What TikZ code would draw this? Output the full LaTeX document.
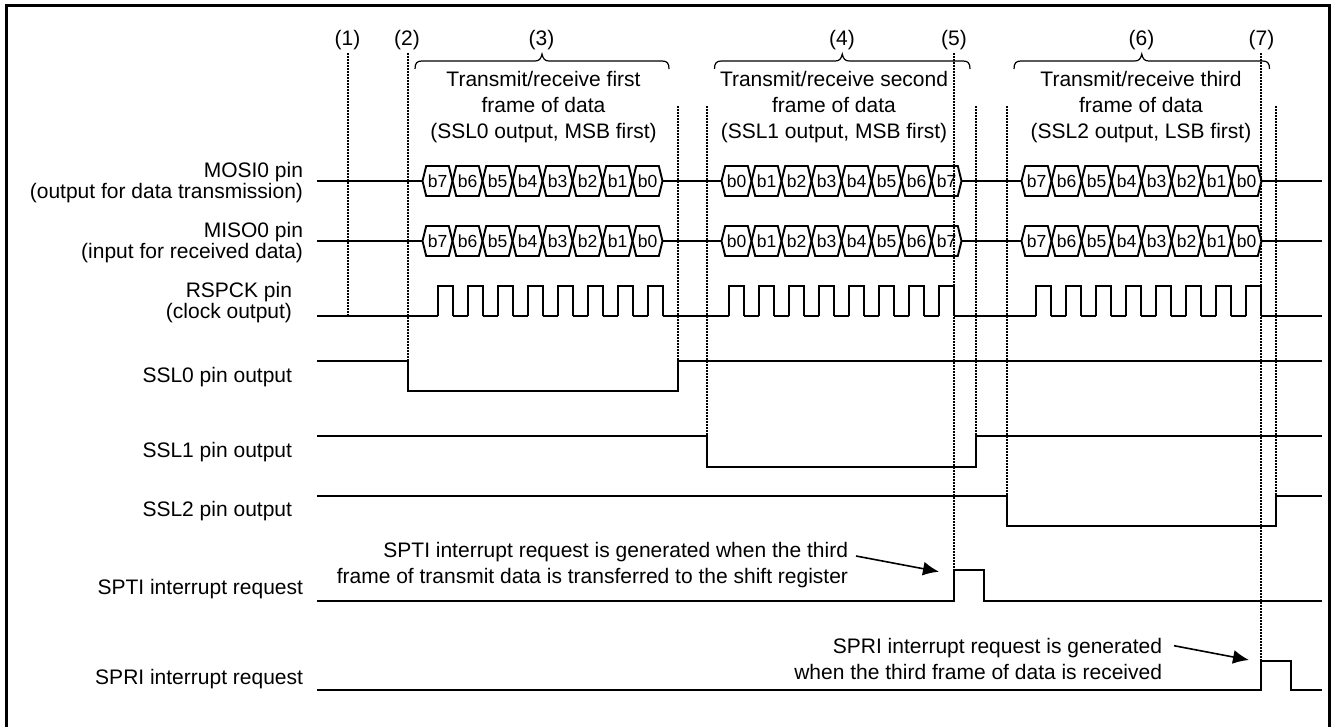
\documentclass[tikz,border=0pt]{standalone}
\usepackage{fontspec}
\setmainfont{Liberation Sans}
\usetikzlibrary{arrows.meta}
\newcommand{\ftxt}{\fontsize{21}{26}\selectfont}
\newcommand{\fsig}{\fontsize{21}{20.5}\selectfont}
\newcommand{\fbit}{\fontsize{17.5}{18}\selectfont}
\tikzset{
  x=1pt,y=-1pt,
  sig/.style={line width=1.9pt,black,line join=miter},
  guide/.style={line width=1.7pt,black,dash pattern=on 2.3pt off 0.7pt},
  framebox/.style={line width=3.2pt,black},
  bracepath/.style={line width=1.2pt,black},
  lbl/.style={inner sep=0pt,outer sep=0pt,align=center,font=\ftxt},
  pinlbl/.style={inner sep=0pt,outer sep=0pt,align=right,anchor=east,font=\fsig},
  note/.style={inner sep=0pt,outer sep=0pt,align=right,anchor=east,font=\ftxt},
  bit/.style={inner sep=0pt,outer sep=0pt,font=\fbit},
  callout/.style={line width=1.6pt,black,-{Latex[length=16pt,width=14pt]}}
}
\newcommand{\hexes}[4]{% #1 y, #2 left tip, #3 period, #4 list
  \foreach \b [count=\i from 0] in {#4}{
    \pgfmathsetmacro{\xa}{#2+\i*#3}
    \pgfmathsetmacro{\xb}{\xa+#3}
    \draw[sig] (\xa,#1) -- (\xa+3.7,#1-15) -- (\xb-3.7,#1-15) -- (\xb,#1) -- (\xb-3.7,#1+15) -- (\xa+3.7,#1+15) -- cycle;
    \node[bit] (bit#1x\i x#2) at ({(\xa+\xb)/2},#1) {\b};
  }
}
\newcommand{\clockb}[2]{% #1 first rise, #2 period
  \foreach \i in {0,...,7}{
    \pgfmathsetmacro{\xa}{#1+\i*#2}
    \draw[sig] (\xa,316) -- (\xa,286) -- (\xa+15,286) -- (\xa+15,316);
    \ifnum\i<7 \draw[sig] (\xa+15,316) -- (\xa+#2,316);\fi
  }
}
\newcommand{\braceb}[2]{% #1 left, #2 right
  \pgfmathsetmacro{\mid}{(#1+#2)/2}
  \draw[bracepath] (#1,69) .. controls (#1,63) and (#1+2,61) .. (#1+7,61) -- (\mid-7,61)
    .. controls (\mid-3,61) and (\mid-1,59) .. (\mid,54)
    .. controls (\mid+1,59) and (\mid+3,61) .. (\mid+7,61) -- (#2-7,61)
    .. controls (#2-2,61) and (#2,63) .. (#2,69);
}
\begin{document}
\begin{tikzpicture}
\useasboundingbox (0,0) rectangle (1332,727);
\draw[framebox] (6.5,727) -- (6.5,5.5) -- (1329.5,5.5) -- (1329.5,727);

% guides
\foreach \gx/\ga/\gb in {348/53/316, 408/53/361, 678/106/361, 707/106/436, 954/53/570, 976/106/436, 1007/106/496, 1261/53/661, 1276/106/496}{
  \draw[guide] (\gx,\ga) -- (\gx,\gb);
}

% braces
\braceb{415}{669}
\braceb{714.5}{970}
\braceb{1014}{1269.5}

% numbers
\node[lbl] (n1) at (347.5,40) {(1)};
\node[lbl] (n2) at (407,40) {(2)};
\node[lbl] (n3) at (541.5,40) {(3)};
\node[lbl] (n4) at (842,40) {(4)};
\node[lbl] (n5) at (954,40) {(5)};
\node[lbl] (n6) at (1141.5,40) {(6)};
\node[lbl] (n7) at (1261.5,40) {(7)};

% frame captions
\node[lbl] (c1) at (543.5,107.5) {Transmit/receive first\\frame of data\\(SSL0 output, MSB first)};
\node[lbl] (c2) at (834,107.5) {Transmit/receive second\\frame of data\\(SSL1 output, MSB first)};
\node[lbl] (c3) at (1141,107.5) {Transmit/receive third\\frame of data\\(SSL2 output, LSB first)};

% pin labels
\node[pinlbl] (l1) at (303,182.5) {MOSI0 pin\\(output for data transmission)};
\node[pinlbl] (l2) at (303,242.5) {MISO0 pin\\(input for received data)};
\node[pinlbl] (l3) at (292,302.5) {RSPCK pin\\(clock output)};
\node[pinlbl] (l4) at (292,377) {SSL0 pin output};
\node[pinlbl] (l5) at (292,452) {SSL1 pin output};
\node[pinlbl] (l6) at (292,511.5) {SSL2 pin output};
\node[pinlbl] (l7) at (303,589) {SPTI interrupt request};
\node[pinlbl] (l8) at (303,679) {SPRI interrupt request};

% data lines
\foreach \ly in {181,241}{
  \draw[sig] (317,\ly) -- (422.5,\ly);
  \draw[sig] (662.5,\ly) -- (721.5,\ly);
  \draw[sig] (961.5,\ly) -- (1021.5,\ly);
  \draw[sig] (1261.5,\ly) -- (1322,\ly);
  \hexes{\ly}{422.5}{30}{b7,b6,b5,b4,b3,b2,b1,b0}
  \hexes{\ly}{721.5}{30}{b0,b1,b2,b3,b4,b5,b6,b7}
  \hexes{\ly}{1021.5}{30}{b7,b6,b5,b4,b3,b2,b1,b0}
}

% clock
\draw[sig] (317,316) -- (438,316);
\clockb{438}{30}
\draw[sig] (663,316) -- (729,316);
\clockb{729}{30}
\draw[sig] (954,316) -- (1036,316);
\clockb{1036}{30}
\draw[sig] (1261,316) -- (1322,316);

% SSL
\draw[sig] (317,361) -- (408,361) -- (408,391) -- (678,391) -- (678,361) -- (1322,361);
\draw[sig] (317,436) -- (707,436) -- (707,467) -- (976,467) -- (976,436) -- (1322,436);
\draw[sig] (317,496) -- (1007,496) -- (1007,526) -- (1276,526) -- (1276,496) -- (1322,496);

% interrupts
\draw[sig] (317,601) -- (954,601) -- (954,570) -- (984,570) -- (984,601) -- (1322,601);
\draw[sig] (317,690) -- (1261,690) -- (1261,661) -- (1291,661) -- (1291,690) -- (1322,690);

% notes
\node[note] (t1) at (848,565) {SPTI interrupt request is generated when the third\\frame of transmit data is transferred to the shift register};
\node[note] (t2) at (1162,659) {SPRI interrupt request is generated\\when the third frame of data is received};
\coordinate (a1s) at (856,556);
\coordinate (a1e) at (939,571.7);
\coordinate (a2s) at (1174,645.7);
\coordinate (a2e) at (1249,660);
\draw[callout] (a1s) -- (a1e);
\draw[callout] (a2s) -- (a2e);
\end{tikzpicture}
\end{document}
